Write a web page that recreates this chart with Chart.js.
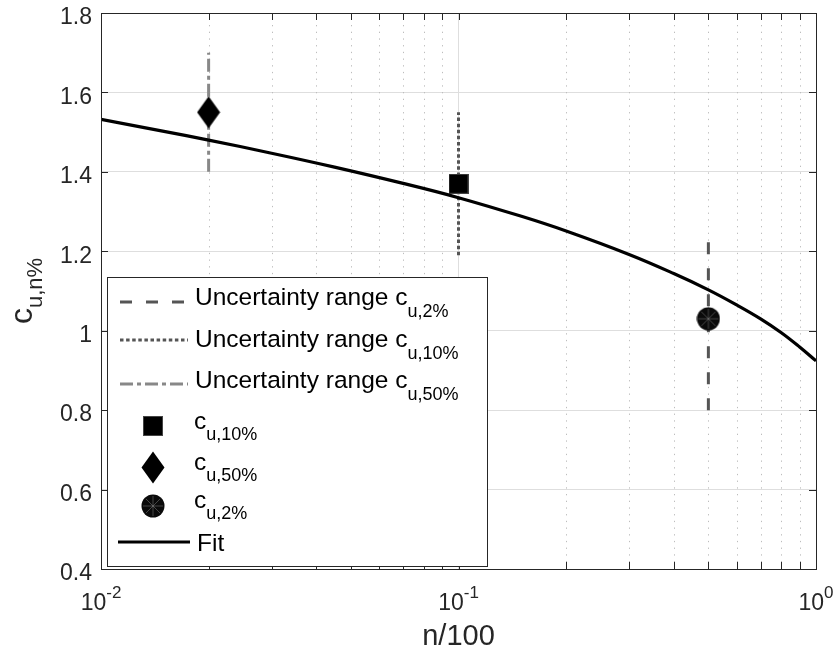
<!DOCTYPE html>
<html>
<head>
<meta charset="utf-8">
<script src="https://cdn.jsdelivr.net/npm/chart.js@4.4.1/dist/chart.umd.min.js"></script>
<style>
  html, body { margin: 0; padding: 0; background: #fff; }
  #wrap { width: 836px; height: 656px; }
</style>
</head>
<body>
<div id="wrap"><canvas id="chart" width="836" height="656"></canvas></div>
<script>
// fit curve
const fitN = [0.01, 0.015, 0.02, 0.03, 0.045, 0.07, 0.1, 0.15, 0.2, 0.3, 0.4, 0.5, 0.6, 0.7, 0.8, 0.9, 1.0];
const fitC = [1.532, 1.502, 1.480, 1.447, 1.412, 1.371, 1.335, 1.288, 1.251, 1.192, 1.144, 1.103, 1.065, 1.030, 0.995, 0.959, 0.924];

// measured points: c_u,2% / c_u,10% / c_u,50%
const pointN = [0.5, 0.1, 0.02];
const pointC = [1.03, 1.37, 1.55];
const rangeLow = [0.8, 1.19, 1.4];
const rangeHigh = [1.23, 1.55, 1.7];
const pointTags = ['u,2%', 'u,10%', 'u,50%'];

const yTicks = [0.4, 0.6, 0.8, 1.0, 1.2, 1.4, 1.6, 1.8];
const xTicks = [0.01, 0.1, 1];
const xTickExp = ['-2', '-1', '0'];

const FONT = '"Liberation Sans", Arial, Helvetica, sans-serif';
const AXIS = '#262626';

const isDecade = v => Math.abs(Math.log10(v) - Math.round(Math.log10(v))) < 1e-9;

// markers as small canvases
function makeMarker(kind) {
  const c = document.createElement('canvas');
  const g = c.getContext('2d');
  if (kind === 'square') {
    c.width = 20; c.height = 20;
    g.fillStyle = '#000';
    g.fillRect(0.5, 0.5, 19, 19);
    g.strokeStyle = '#444';
    g.strokeRect(0.5, 0.5, 19, 19);
  } else if (kind === 'diamond') {
    c.width = 24; c.height = 33;
    g.fillStyle = '#000';
    g.beginPath();
    g.moveTo(12, 0.5); g.lineTo(23.5, 16.5); g.lineTo(12, 32.5); g.lineTo(0.5, 16.5);
    g.closePath(); g.fill();
  } else {
    c.width = 24; c.height = 24;
    g.fillStyle = '#0a0a0a';
    g.beginPath(); g.arc(12, 12, 11.5, 0, Math.PI * 2); g.fill();
    g.strokeStyle = 'rgba(150,150,150,0.55)';
    g.lineWidth = 0.8;
    for (let k = 0; k < 8; k++) {
      const a = k * Math.PI / 4;
      g.beginPath(); g.moveTo(12, 12);
      g.lineTo(12 + 10 * Math.cos(a), 12 + 10 * Math.sin(a)); g.stroke();
    }
  }
  return c;
}
const markers = [makeMarker('circle'), makeMarker('square'), makeMarker('diamond')];

const rangeStyles = [
  { color: '#555555', dash: [12, 14] },
  { color: '#555555', dash: [3.5, 2.6] },
  { color: '#888888', dash: [13, 4, 4, 4] }
];

const datasets = [];
datasets.push({
  label: 'Fit',
  data: fitN.map((n, i) => ({ x: n, y: fitC[i] })),
  showLine: true,
  borderColor: '#000',
  borderWidth: 3.2,
  pointRadius: 0,
  tension: 0.4,
  order: 0
});
pointN.forEach((n, i) => {
  datasets.push({
    label: 'c_' + pointTags[i],
    data: [{ x: n, y: pointC[i] }],
    showLine: false,
    pointStyle: markers[i],
    pointRadius: 12,
    order: 1
  });
});
pointN.forEach((n, i) => {
  datasets.push({
    label: 'Uncertainty range c_' + pointTags[i],
    data: [{ x: n, y: rangeLow[i] }, { x: n, y: rangeHigh[i] }],
    showLine: true,
    borderColor: rangeStyles[i].color,
    borderDash: rangeStyles[i].dash,
    borderWidth: 3,
    borderCapStyle: 'butt',
    pointRadius: 0,
    order: 2
  });
});

function textWithSub(ctx, x, y, main, sub, mainSize, subSize, drop) {
  ctx.font = mainSize + 'px ' + FONT;
  ctx.fillText(main, x, y);
  const w = ctx.measureText(main).width;
  ctx.font = subSize + 'px ' + FONT;
  ctx.fillText(sub, x + w, y + drop);
}

const decor = {
  id: 'decor',
  beforeDatasetsDraw(chart) {
    const { ctx, chartArea: a, scales: { x } } = chart;
    ctx.save();
    ctx.strokeStyle = '#bdbdbd';
    ctx.lineWidth = 1;
    ctx.setLineDash([1.3, 5.4]);
    x.ticks.forEach(t => {
      if (isDecade(t.value)) return;
      const px = Math.round(x.getPixelForValue(t.value)) + 0.5;
      ctx.beginPath(); ctx.moveTo(px, a.bottom); ctx.lineTo(px, a.top); ctx.stroke();
    });
    ctx.restore();
  },
  afterDatasetsDraw(chart) {
    const { ctx, chartArea: a, scales: { x, y } } = chart;
    ctx.save();
    ctx.strokeStyle = AXIS;
    ctx.lineWidth = 1;
    // inward ticks on all four sides
    x.ticks.forEach(t => {
      const px = Math.round(x.getPixelForValue(t.value)) + 0.5;
      ctx.beginPath();
      ctx.moveTo(px, a.bottom); ctx.lineTo(px, a.bottom - 7);
      ctx.moveTo(px, a.top); ctx.lineTo(px, a.top + 7);
      ctx.stroke();
    });
    yTicks.forEach(v => {
      const py = Math.round(y.getPixelForValue(v)) + 0.5;
      ctx.beginPath();
      ctx.moveTo(a.left, py); ctx.lineTo(a.left + 7, py);
      ctx.moveTo(a.right, py); ctx.lineTo(a.right - 7, py);
      ctx.stroke();
    });
    ctx.strokeRect(Math.round(a.left) + 0.5, Math.round(a.top) + 0.5,
      Math.round(a.right - a.left), Math.round(a.bottom - a.top));
    ctx.restore();
  },
  afterDraw(chart) {
    const { ctx, chartArea: a, scales: { x } } = chart;
    ctx.save();
    ctx.fillStyle = AXIS;
    ctx.textBaseline = 'alphabetic';

    // x tick labels 10^k
    xTicks.forEach((v, i) => {
      const px = x.getPixelForValue(v);
      ctx.font = '23px ' + FONT;
      const w1 = ctx.measureText('10').width;
      ctx.font = '17px ' + FONT;
      const w2 = ctx.measureText(xTickExp[i]).width;
      const x0 = px - (w1 + w2) / 2;
      ctx.font = '23px ' + FONT;
      ctx.fillText('10', x0, a.bottom + 41);
      ctx.font = '17px ' + FONT;
      ctx.fillText(xTickExp[i], x0 + w1, a.bottom + 29);
    });

    // x title
    ctx.font = '29px ' + FONT;
    ctx.textAlign = 'center';
    ctx.fillText('n/100', (a.left + a.right) / 2, a.bottom + 76);
    ctx.textAlign = 'left';

    // y title, rotated
    ctx.save();
    ctx.font = '32px ' + FONT;
    const wc = ctx.measureText('c').width;
    ctx.font = '22px ' + FONT;
    const ws = ctx.measureText('u,n%').width;
    ctx.translate(32, (a.top + a.bottom) / 2 + (wc + ws) / 2);
    ctx.rotate(-Math.PI / 2);
    textWithSub(ctx, 0, 0, 'c', 'u,n%', 32, 22, 10);
    ctx.restore();

    // legend
    const L = 107.5, T = 277.5, R = 487.5, B = 566.5;
    ctx.fillStyle = '#fff';
    ctx.fillRect(L, T, R - L, B - T);
    ctx.strokeStyle = AXIS;
    ctx.lineWidth = 1;
    ctx.strokeRect(L, T, R - L, B - T);

    const lineRows = [
      { st: rangeStyles[0], y: 302, base: 305, sub: pointTags[0] },
      { st: rangeStyles[1], y: 340, base: 346.5, sub: pointTags[1] },
      { st: rangeStyles[2], y: 384, base: 388, sub: pointTags[2] }
    ];
    lineRows.forEach(r => {
      ctx.strokeStyle = r.st.color;
      ctx.lineWidth = 3;
      ctx.setLineDash(r.st.dash);
      ctx.beginPath(); ctx.moveTo(120, r.y); ctx.lineTo(188, r.y); ctx.stroke();
      ctx.setLineDash([]);
      ctx.fillStyle = '#000';
      textWithSub(ctx, 195, r.base, 'Uncertainty range c', r.sub, 24.5, 18, 12);
    });

    const markerRows = [
      { m: markers[1], y: 426, base: 429, sub: pointTags[1] },
      { m: markers[2], y: 467, base: 470, sub: pointTags[2] },
      { m: markers[0], y: 506, base: 508, sub: pointTags[0] }
    ];
    markerRows.forEach(r => {
      ctx.drawImage(r.m, Math.round(153 - r.m.width / 2), Math.round(r.y - r.m.height / 2));
      ctx.fillStyle = '#000';
      textWithSub(ctx, 194, r.base, 'c', r.sub, 24.5, 18, 11);
    });

    ctx.strokeStyle = '#000';
    ctx.lineWidth = 3.2;
    ctx.beginPath(); ctx.moveTo(118, 542); ctx.lineTo(190, 542); ctx.stroke();
    ctx.fillStyle = '#000';
    ctx.font = '24.5px ' + FONT;
    ctx.fillText('Fit', 197, 550.5);
    ctx.restore();
  }
};

new Chart(document.getElementById('chart'), {
  type: 'scatter',
  data: { datasets },
  options: {
    responsive: false,
    devicePixelRatio: 1,
    animation: false,
    layout: { padding: { top: 13, right: 20, left: 0, bottom: 0 } },
    plugins: { legend: { display: false }, tooltip: { enabled: false } },
    scales: {
      x: {
        type: 'logarithmic',
        min: 0.01,
        max: 1,
        afterBuildTicks: s => {
          const t = [];
          [0.01, 0.1].forEach(d => { for (let k = 1; k <= 9; k++) t.push({ value: +(d * k).toPrecision(3) }); });
          t.push({ value: 1 });
          s.ticks = t;
        },
        afterFit: s => { s.height = 87; s.paddingLeft = 0; s.paddingRight = 0; },
        ticks: { display: false },
        grid: {
          drawTicks: false,
          color: c => (c.tick && isDecade(c.tick.value)) ? '#dedede' : 'rgba(0,0,0,0)',
          lineWidth: 1
        },
        border: { display: false }
      },
      y: {
        min: 0.4,
        max: 1.8,
        afterBuildTicks: s => { s.ticks = yTicks.map(v => ({ value: v })); },
        afterFit: s => { s.width = 101; s.paddingTop = 0; s.paddingBottom = 0; },
        ticks: {
          padding: 9,
          labelOffset: 5,
          color: AXIS,
          font: { family: FONT, size: 23 },
          callback: v => String(+v.toFixed(1))
        },
        grid: { drawTicks: false, color: '#dedede', lineWidth: 1 },
        border: { display: false }
      }
    }
  },
  plugins: [decor]
});
</script>
</body>
</html>
